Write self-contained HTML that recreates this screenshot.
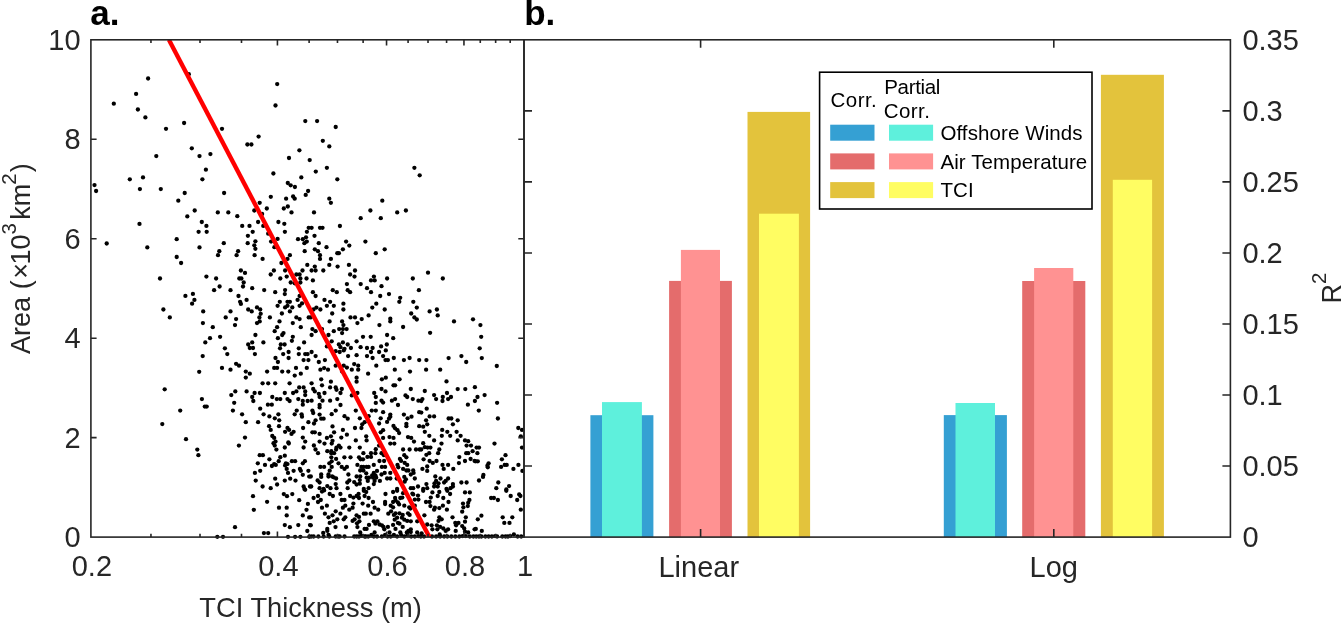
<!DOCTYPE html>
<html><head><meta charset="utf-8"><title>Figure</title>
<style>html,body{margin:0;padding:0;background:#fff;width:1341px;height:623px;overflow:hidden}svg{display:block;will-change:transform}</style>
</head><body><svg width="1341" height="623" viewBox="0 0 1341 623"><rect x="590.4" y="415.2" width="63.0" height="121.9" fill="#35a0d3"/><rect x="602.0" y="402.1" width="39.9" height="135.0" fill="#5ef0dc"/><rect x="669.1" y="280.9" width="62.8" height="256.2" fill="#e46c6c"/><rect x="680.9" y="249.9" width="39.1" height="287.2" fill="#ff9292"/><rect x="747.5" y="111.9" width="62.6" height="425.2" fill="#e3c33c"/><rect x="759.0" y="213.7" width="39.9" height="323.4" fill="#fffd62"/><rect x="943.8" y="415.1" width="63.1" height="122.0" fill="#35a0d3"/><rect x="955.5" y="403.0" width="39.5" height="134.1" fill="#5ef0dc"/><rect x="1022.2" y="281.0" width="63.1" height="256.1" fill="#e46c6c"/><rect x="1034.1" y="268.0" width="39.2" height="269.1" fill="#ff9292"/><rect x="1100.9" y="74.8" width="63.0" height="462.3" fill="#e3c33c"/><rect x="1112.8" y="179.8" width="39.3" height="357.3" fill="#fffd62"/><g fill="#000"><circle cx="148.1" cy="78.5" r="2.15"/><circle cx="136.1" cy="93.9" r="2.15"/><circle cx="113.8" cy="103.7" r="2.15"/><circle cx="137.9" cy="109.5" r="2.15"/><circle cx="145.4" cy="117.4" r="2.15"/><circle cx="166.0" cy="128.8" r="2.15"/><circle cx="184.1" cy="123.0" r="2.15"/><circle cx="188.8" cy="74.2" r="2.15"/><circle cx="277.2" cy="84.1" r="2.15"/><circle cx="275.5" cy="105.5" r="2.15"/><circle cx="305.3" cy="121.1" r="2.15"/><circle cx="222.0" cy="128.8" r="2.15"/><circle cx="258.6" cy="136.6" r="2.15"/><circle cx="317.1" cy="121.1" r="2.15"/><circle cx="335.7" cy="127.0" r="2.15"/><circle cx="191.8" cy="148.3" r="2.15"/><circle cx="156.3" cy="156.1" r="2.15"/><circle cx="199.5" cy="156.1" r="2.15"/><circle cx="129.8" cy="179.3" r="2.15"/><circle cx="143.0" cy="177.4" r="2.15"/><circle cx="94.5" cy="185.1" r="2.15"/><circle cx="96.1" cy="191.0" r="2.15"/><circle cx="139.9" cy="189.1" r="2.15"/><circle cx="160.8" cy="189.1" r="2.15"/><circle cx="184.7" cy="193.0" r="2.15"/><circle cx="178.3" cy="200.7" r="2.15"/><circle cx="194.7" cy="210.5" r="2.15"/><circle cx="187.3" cy="216.4" r="2.15"/><circle cx="139.5" cy="223.9" r="2.15"/><circle cx="198.6" cy="231.8" r="2.15"/><circle cx="176.7" cy="239.2" r="2.15"/><circle cx="247.4" cy="144.5" r="2.15"/><circle cx="251.4" cy="144.5" r="2.15"/><circle cx="299.4" cy="150.3" r="2.15"/><circle cx="210.4" cy="154.1" r="2.15"/><circle cx="289.0" cy="158.0" r="2.15"/><circle cx="309.7" cy="160.1" r="2.15"/><circle cx="205.9" cy="169.7" r="2.15"/><circle cx="202.4" cy="179.3" r="2.15"/><circle cx="273.4" cy="173.5" r="2.15"/><circle cx="301.3" cy="177.4" r="2.15"/><circle cx="287.8" cy="183.0" r="2.15"/><circle cx="290.7" cy="185.3" r="2.15"/><circle cx="294.9" cy="187.0" r="2.15"/><circle cx="308.1" cy="191.0" r="2.15"/><circle cx="224.1" cy="193.0" r="2.15"/><circle cx="270.8" cy="196.8" r="2.15"/><circle cx="286.1" cy="198.7" r="2.15"/><circle cx="293.1" cy="196.5" r="2.15"/><circle cx="294.7" cy="198.7" r="2.15"/><circle cx="305.7" cy="194.9" r="2.15"/><circle cx="259.7" cy="202.8" r="2.15"/><circle cx="266.8" cy="208.5" r="2.15"/><circle cx="254.3" cy="210.5" r="2.15"/><circle cx="283.8" cy="208.5" r="2.15"/><circle cx="287.8" cy="206.5" r="2.15"/><circle cx="291.5" cy="212.4" r="2.15"/><circle cx="217.8" cy="212.4" r="2.15"/><circle cx="228.3" cy="212.4" r="2.15"/><circle cx="237.3" cy="216.2" r="2.15"/><circle cx="262.1" cy="214.0" r="2.15"/><circle cx="201.8" cy="222.0" r="2.15"/><circle cx="206.4" cy="225.9" r="2.15"/><circle cx="242.2" cy="225.9" r="2.15"/><circle cx="249.5" cy="225.9" r="2.15"/><circle cx="258.1" cy="222.0" r="2.15"/><circle cx="263.3" cy="225.9" r="2.15"/><circle cx="278.4" cy="222.0" r="2.15"/><circle cx="284.3" cy="223.8" r="2.15"/><circle cx="308.7" cy="227.8" r="2.15"/><circle cx="206.7" cy="231.8" r="2.15"/><circle cx="252.7" cy="231.8" r="2.15"/><circle cx="247.9" cy="235.8" r="2.15"/><circle cx="268.2" cy="233.7" r="2.15"/><circle cx="284.9" cy="231.8" r="2.15"/><circle cx="306.9" cy="231.8" r="2.15"/><circle cx="277.6" cy="238.9" r="2.15"/><circle cx="298.0" cy="239.2" r="2.15"/><circle cx="302.8" cy="239.2" r="2.15"/><circle cx="306.0" cy="237.3" r="2.15"/><circle cx="322.8" cy="140.8" r="2.15"/><circle cx="329.3" cy="146.4" r="2.15"/><circle cx="326.9" cy="167.8" r="2.15"/><circle cx="315.8" cy="171.6" r="2.15"/><circle cx="337.3" cy="179.3" r="2.15"/><circle cx="414.4" cy="167.8" r="2.15"/><circle cx="419.7" cy="175.3" r="2.15"/><circle cx="329.3" cy="198.7" r="2.15"/><circle cx="330.9" cy="202.8" r="2.15"/><circle cx="382.3" cy="200.7" r="2.15"/><circle cx="314.0" cy="212.4" r="2.15"/><circle cx="370.4" cy="210.5" r="2.15"/><circle cx="397.2" cy="212.4" r="2.15"/><circle cx="405.9" cy="210.5" r="2.15"/><circle cx="360.7" cy="218.2" r="2.15"/><circle cx="380.8" cy="218.2" r="2.15"/><circle cx="311.6" cy="227.8" r="2.15"/><circle cx="320.0" cy="227.8" r="2.15"/><circle cx="322.5" cy="227.8" r="2.15"/><circle cx="339.9" cy="226.0" r="2.15"/><circle cx="314.5" cy="235.8" r="2.15"/><circle cx="106.7" cy="243.5" r="2.15"/><circle cx="147.3" cy="247.4" r="2.15"/><circle cx="199.5" cy="247.4" r="2.15"/><circle cx="176.7" cy="257.0" r="2.15"/><circle cx="181.1" cy="263.0" r="2.15"/><circle cx="160.0" cy="278.5" r="2.15"/><circle cx="185.4" cy="295.9" r="2.15"/><circle cx="192.9" cy="293.9" r="2.15"/><circle cx="194.4" cy="299.9" r="2.15"/><circle cx="192.1" cy="303.7" r="2.15"/><circle cx="163.4" cy="309.5" r="2.15"/><circle cx="169.8" cy="317.4" r="2.15"/><circle cx="223.8" cy="243.2" r="2.15"/><circle cx="247.7" cy="243.2" r="2.15"/><circle cx="255.4" cy="241.3" r="2.15"/><circle cx="254.3" cy="245.3" r="2.15"/><circle cx="271.1" cy="241.6" r="2.15"/><circle cx="274.4" cy="247.2" r="2.15"/><circle cx="304.4" cy="243.2" r="2.15"/><circle cx="306.8" cy="241.6" r="2.15"/><circle cx="255.4" cy="248.8" r="2.15"/><circle cx="219.3" cy="251.2" r="2.15"/><circle cx="238.1" cy="251.2" r="2.15"/><circle cx="218.0" cy="255.2" r="2.15"/><circle cx="236.6" cy="255.2" r="2.15"/><circle cx="254.6" cy="255.2" r="2.15"/><circle cx="304.7" cy="251.2" r="2.15"/><circle cx="289.9" cy="255.2" r="2.15"/><circle cx="262.6" cy="258.9" r="2.15"/><circle cx="287.5" cy="258.9" r="2.15"/><circle cx="281.4" cy="263.0" r="2.15"/><circle cx="307.3" cy="264.9" r="2.15"/><circle cx="240.9" cy="270.5" r="2.15"/><circle cx="245.0" cy="272.9" r="2.15"/><circle cx="273.9" cy="270.5" r="2.15"/><circle cx="285.1" cy="270.5" r="2.15"/><circle cx="302.5" cy="270.5" r="2.15"/><circle cx="270.7" cy="274.5" r="2.15"/><circle cx="206.4" cy="276.6" r="2.15"/><circle cx="216.1" cy="278.5" r="2.15"/><circle cx="239.3" cy="278.5" r="2.15"/><circle cx="241.4" cy="278.5" r="2.15"/><circle cx="280.3" cy="278.5" r="2.15"/><circle cx="286.7" cy="276.6" r="2.15"/><circle cx="296.4" cy="274.5" r="2.15"/><circle cx="299.6" cy="274.5" r="2.15"/><circle cx="300.4" cy="278.5" r="2.15"/><circle cx="306.5" cy="278.5" r="2.15"/><circle cx="243.7" cy="282.5" r="2.15"/><circle cx="290.7" cy="282.5" r="2.15"/><circle cx="294.7" cy="283.3" r="2.15"/><circle cx="300.4" cy="282.5" r="2.15"/><circle cx="243.0" cy="286.5" r="2.15"/><circle cx="219.6" cy="286.5" r="2.15"/><circle cx="252.2" cy="288.2" r="2.15"/><circle cx="264.2" cy="290.1" r="2.15"/><circle cx="214.1" cy="290.2" r="2.15"/><circle cx="230.5" cy="290.2" r="2.15"/><circle cx="275.2" cy="292.2" r="2.15"/><circle cx="285.1" cy="290.1" r="2.15"/><circle cx="284.8" cy="294.1" r="2.15"/><circle cx="238.5" cy="296.0" r="2.15"/><circle cx="299.6" cy="296.0" r="2.15"/><circle cx="246.6" cy="299.9" r="2.15"/><circle cx="240.1" cy="301.8" r="2.15"/><circle cx="240.9" cy="303.9" r="2.15"/><circle cx="279.8" cy="301.8" r="2.15"/><circle cx="297.6" cy="299.9" r="2.15"/><circle cx="287.5" cy="301.8" r="2.15"/><circle cx="289.9" cy="301.8" r="2.15"/><circle cx="277.6" cy="305.8" r="2.15"/><circle cx="299.6" cy="305.8" r="2.15"/><circle cx="302.0" cy="303.4" r="2.15"/><circle cx="257.0" cy="307.4" r="2.15"/><circle cx="248.2" cy="309.5" r="2.15"/><circle cx="251.7" cy="311.4" r="2.15"/><circle cx="260.2" cy="309.5" r="2.15"/><circle cx="260.7" cy="313.8" r="2.15"/><circle cx="285.1" cy="307.4" r="2.15"/><circle cx="287.5" cy="305.8" r="2.15"/><circle cx="292.3" cy="307.4" r="2.15"/><circle cx="289.9" cy="311.4" r="2.15"/><circle cx="203.2" cy="311.4" r="2.15"/><circle cx="230.5" cy="311.4" r="2.15"/><circle cx="281.9" cy="313.5" r="2.15"/><circle cx="225.7" cy="317.4" r="2.15"/><circle cx="236.1" cy="319.1" r="2.15"/><circle cx="259.4" cy="317.4" r="2.15"/><circle cx="269.9" cy="317.4" r="2.15"/><circle cx="296.4" cy="317.4" r="2.15"/><circle cx="299.6" cy="319.1" r="2.15"/><circle cx="308.7" cy="317.4" r="2.15"/><circle cx="279.5" cy="321.4" r="2.15"/><circle cx="202.9" cy="323.1" r="2.15"/><circle cx="257.0" cy="323.1" r="2.15"/><circle cx="259.7" cy="321.4" r="2.15"/><circle cx="235.0" cy="325.1" r="2.15"/><circle cx="292.8" cy="323.1" r="2.15"/><circle cx="212.8" cy="327.2" r="2.15"/><circle cx="277.1" cy="327.2" r="2.15"/><circle cx="300.8" cy="327.2" r="2.15"/><circle cx="274.7" cy="331.2" r="2.15"/><circle cx="283.5" cy="333.1" r="2.15"/><circle cx="255.4" cy="335.0" r="2.15"/><circle cx="282.2" cy="335.0" r="2.15"/><circle cx="220.1" cy="336.8" r="2.15"/><circle cx="210.0" cy="338.2" r="2.15"/><circle cx="277.9" cy="338.2" r="2.15"/><circle cx="292.8" cy="336.8" r="2.15"/><circle cx="318.8" cy="243.2" r="2.15"/><circle cx="346.1" cy="241.6" r="2.15"/><circle cx="365.4" cy="241.6" r="2.15"/><circle cx="349.3" cy="245.6" r="2.15"/><circle cx="314.8" cy="249.3" r="2.15"/><circle cx="326.5" cy="247.2" r="2.15"/><circle cx="318.0" cy="251.2" r="2.15"/><circle cx="337.3" cy="253.2" r="2.15"/><circle cx="338.9" cy="253.2" r="2.15"/><circle cx="342.9" cy="249.3" r="2.15"/><circle cx="384.7" cy="249.3" r="2.15"/><circle cx="375.8" cy="253.2" r="2.15"/><circle cx="320.0" cy="255.2" r="2.15"/><circle cx="320.0" cy="258.9" r="2.15"/><circle cx="330.9" cy="258.9" r="2.15"/><circle cx="329.3" cy="264.9" r="2.15"/><circle cx="337.6" cy="266.6" r="2.15"/><circle cx="348.9" cy="264.9" r="2.15"/><circle cx="314.8" cy="266.6" r="2.15"/><circle cx="311.6" cy="270.5" r="2.15"/><circle cx="315.6" cy="270.5" r="2.15"/><circle cx="323.3" cy="270.5" r="2.15"/><circle cx="355.0" cy="270.5" r="2.15"/><circle cx="350.1" cy="274.5" r="2.15"/><circle cx="354.5" cy="276.6" r="2.15"/><circle cx="373.9" cy="276.6" r="2.15"/><circle cx="371.0" cy="280.4" r="2.15"/><circle cx="374.7" cy="280.4" r="2.15"/><circle cx="387.1" cy="278.5" r="2.15"/><circle cx="412.8" cy="278.5" r="2.15"/><circle cx="312.9" cy="280.4" r="2.15"/><circle cx="346.9" cy="284.1" r="2.15"/><circle cx="360.7" cy="284.1" r="2.15"/><circle cx="367.0" cy="288.2" r="2.15"/><circle cx="381.5" cy="286.2" r="2.15"/><circle cx="332.8" cy="290.2" r="2.15"/><circle cx="336.8" cy="292.2" r="2.15"/><circle cx="347.7" cy="290.2" r="2.15"/><circle cx="350.1" cy="292.2" r="2.15"/><circle cx="371.0" cy="292.2" r="2.15"/><circle cx="312.9" cy="292.2" r="2.15"/><circle cx="389.0" cy="294.1" r="2.15"/><circle cx="418.9" cy="290.2" r="2.15"/><circle cx="315.6" cy="296.0" r="2.15"/><circle cx="380.2" cy="296.0" r="2.15"/><circle cx="400.2" cy="297.8" r="2.15"/><circle cx="399.3" cy="301.8" r="2.15"/><circle cx="413.3" cy="301.8" r="2.15"/><circle cx="324.5" cy="299.9" r="2.15"/><circle cx="330.1" cy="301.8" r="2.15"/><circle cx="326.9" cy="305.8" r="2.15"/><circle cx="333.8" cy="305.8" r="2.15"/><circle cx="343.4" cy="303.7" r="2.15"/><circle cx="376.3" cy="303.7" r="2.15"/><circle cx="372.3" cy="307.6" r="2.15"/><circle cx="316.4" cy="307.6" r="2.15"/><circle cx="320.4" cy="309.5" r="2.15"/><circle cx="313.5" cy="309.5" r="2.15"/><circle cx="343.4" cy="309.5" r="2.15"/><circle cx="384.7" cy="309.5" r="2.15"/><circle cx="416.8" cy="307.6" r="2.15"/><circle cx="332.2" cy="313.5" r="2.15"/><circle cx="368.6" cy="315.4" r="2.15"/><circle cx="411.2" cy="313.5" r="2.15"/><circle cx="414.4" cy="317.4" r="2.15"/><circle cx="416.8" cy="319.5" r="2.15"/><circle cx="310.8" cy="317.4" r="2.15"/><circle cx="350.5" cy="317.4" r="2.15"/><circle cx="355.0" cy="317.4" r="2.15"/><circle cx="361.7" cy="319.1" r="2.15"/><circle cx="390.3" cy="318.7" r="2.15"/><circle cx="390.3" cy="321.4" r="2.15"/><circle cx="329.6" cy="321.4" r="2.15"/><circle cx="342.1" cy="321.4" r="2.15"/><circle cx="357.4" cy="323.1" r="2.15"/><circle cx="379.4" cy="325.1" r="2.15"/><circle cx="343.4" cy="325.1" r="2.15"/><circle cx="339.2" cy="329.1" r="2.15"/><circle cx="342.9" cy="329.1" r="2.15"/><circle cx="346.6" cy="329.1" r="2.15"/><circle cx="312.4" cy="329.1" r="2.15"/><circle cx="315.6" cy="331.2" r="2.15"/><circle cx="322.0" cy="329.1" r="2.15"/><circle cx="333.8" cy="331.2" r="2.15"/><circle cx="342.1" cy="333.1" r="2.15"/><circle cx="403.1" cy="327.0" r="2.15"/><circle cx="311.6" cy="335.0" r="2.15"/><circle cx="328.5" cy="335.0" r="2.15"/><circle cx="387.1" cy="335.0" r="2.15"/><circle cx="363.0" cy="336.8" r="2.15"/><circle cx="370.7" cy="336.8" r="2.15"/><circle cx="393.2" cy="338.2" r="2.15"/><circle cx="428.0" cy="272.7" r="2.15"/><circle cx="442.8" cy="278.5" r="2.15"/><circle cx="429.6" cy="311.4" r="2.15"/><circle cx="436.9" cy="309.5" r="2.15"/><circle cx="437.7" cy="315.4" r="2.15"/><circle cx="454.0" cy="321.4" r="2.15"/><circle cx="473.0" cy="319.3" r="2.15"/><circle cx="480.4" cy="325.1" r="2.15"/><circle cx="430.1" cy="332.8" r="2.15"/><circle cx="481.2" cy="336.8" r="2.15"/><circle cx="199.2" cy="371.8" r="2.15"/><circle cx="164.7" cy="389.3" r="2.15"/><circle cx="180.2" cy="410.6" r="2.15"/><circle cx="162.3" cy="424.1" r="2.15"/><circle cx="186.0" cy="439.2" r="2.15"/><circle cx="205.3" cy="342.4" r="2.15"/><circle cx="248.2" cy="344.5" r="2.15"/><circle cx="252.2" cy="342.4" r="2.15"/><circle cx="249.8" cy="348.0" r="2.15"/><circle cx="253.0" cy="348.0" r="2.15"/><circle cx="263.4" cy="342.4" r="2.15"/><circle cx="280.8" cy="344.5" r="2.15"/><circle cx="284.6" cy="344.5" r="2.15"/><circle cx="280.0" cy="348.3" r="2.15"/><circle cx="291.9" cy="340.8" r="2.15"/><circle cx="304.1" cy="342.4" r="2.15"/><circle cx="298.8" cy="348.3" r="2.15"/><circle cx="224.9" cy="348.3" r="2.15"/><circle cx="227.3" cy="354.1" r="2.15"/><circle cx="202.7" cy="356.1" r="2.15"/><circle cx="254.9" cy="354.1" r="2.15"/><circle cx="283.2" cy="354.1" r="2.15"/><circle cx="288.6" cy="352.0" r="2.15"/><circle cx="298.8" cy="354.1" r="2.15"/><circle cx="305.2" cy="354.1" r="2.15"/><circle cx="307.6" cy="354.1" r="2.15"/><circle cx="275.5" cy="358.0" r="2.15"/><circle cx="288.6" cy="358.0" r="2.15"/><circle cx="303.6" cy="360.1" r="2.15"/><circle cx="308.4" cy="360.1" r="2.15"/><circle cx="277.9" cy="362.0" r="2.15"/><circle cx="236.1" cy="363.8" r="2.15"/><circle cx="239.0" cy="365.7" r="2.15"/><circle cx="222.0" cy="367.9" r="2.15"/><circle cx="230.5" cy="369.7" r="2.15"/><circle cx="274.2" cy="367.9" r="2.15"/><circle cx="277.1" cy="367.9" r="2.15"/><circle cx="296.0" cy="367.9" r="2.15"/><circle cx="306.8" cy="367.9" r="2.15"/><circle cx="245.8" cy="371.6" r="2.15"/><circle cx="249.8" cy="373.7" r="2.15"/><circle cx="267.1" cy="371.6" r="2.15"/><circle cx="282.2" cy="371.6" r="2.15"/><circle cx="288.3" cy="371.6" r="2.15"/><circle cx="300.8" cy="373.7" r="2.15"/><circle cx="294.7" cy="375.6" r="2.15"/><circle cx="245.8" cy="377.6" r="2.15"/><circle cx="262.6" cy="383.3" r="2.15"/><circle cx="268.2" cy="383.3" r="2.15"/><circle cx="275.2" cy="383.3" r="2.15"/><circle cx="289.6" cy="383.3" r="2.15"/><circle cx="299.2" cy="387.4" r="2.15"/><circle cx="303.6" cy="387.4" r="2.15"/><circle cx="235.3" cy="391.4" r="2.15"/><circle cx="246.6" cy="391.4" r="2.15"/><circle cx="254.6" cy="393.0" r="2.15"/><circle cx="259.9" cy="393.0" r="2.15"/><circle cx="284.8" cy="393.0" r="2.15"/><circle cx="293.1" cy="393.0" r="2.15"/><circle cx="296.4" cy="391.4" r="2.15"/><circle cx="305.2" cy="391.4" r="2.15"/><circle cx="231.3" cy="395.1" r="2.15"/><circle cx="305.2" cy="395.1" r="2.15"/><circle cx="252.2" cy="397.0" r="2.15"/><circle cx="272.3" cy="397.0" r="2.15"/><circle cx="276.8" cy="399.1" r="2.15"/><circle cx="280.3" cy="399.1" r="2.15"/><circle cx="287.5" cy="399.1" r="2.15"/><circle cx="289.6" cy="401.0" r="2.15"/><circle cx="298.3" cy="399.1" r="2.15"/><circle cx="302.8" cy="401.0" r="2.15"/><circle cx="307.6" cy="401.0" r="2.15"/><circle cx="201.9" cy="399.1" r="2.15"/><circle cx="253.3" cy="401.0" r="2.15"/><circle cx="302.8" cy="404.7" r="2.15"/><circle cx="234.2" cy="402.8" r="2.15"/><circle cx="204.8" cy="406.6" r="2.15"/><circle cx="206.7" cy="406.6" r="2.15"/><circle cx="267.9" cy="404.7" r="2.15"/><circle cx="271.8" cy="404.7" r="2.15"/><circle cx="260.2" cy="408.7" r="2.15"/><circle cx="232.9" cy="410.6" r="2.15"/><circle cx="296.7" cy="410.6" r="2.15"/><circle cx="242.1" cy="414.3" r="2.15"/><circle cx="263.6" cy="414.3" r="2.15"/><circle cx="278.4" cy="414.3" r="2.15"/><circle cx="294.7" cy="414.3" r="2.15"/><circle cx="301.6" cy="414.3" r="2.15"/><circle cx="302.0" cy="416.7" r="2.15"/><circle cx="269.4" cy="416.4" r="2.15"/><circle cx="274.8" cy="418.3" r="2.15"/><circle cx="279.2" cy="420.3" r="2.15"/><circle cx="245.8" cy="422.2" r="2.15"/><circle cx="258.1" cy="422.2" r="2.15"/><circle cx="308.4" cy="422.2" r="2.15"/><circle cx="269.1" cy="426.2" r="2.15"/><circle cx="279.0" cy="426.2" r="2.15"/><circle cx="270.7" cy="429.9" r="2.15"/><circle cx="287.5" cy="428.0" r="2.15"/><circle cx="289.1" cy="429.9" r="2.15"/><circle cx="303.1" cy="428.0" r="2.15"/><circle cx="285.1" cy="431.8" r="2.15"/><circle cx="293.6" cy="431.8" r="2.15"/><circle cx="291.5" cy="433.9" r="2.15"/><circle cx="272.3" cy="436.0" r="2.15"/><circle cx="274.2" cy="437.9" r="2.15"/><circle cx="245.0" cy="437.6" r="2.15"/><circle cx="302.8" cy="437.6" r="2.15"/><circle cx="331.7" cy="341.3" r="2.15"/><circle cx="338.9" cy="344.5" r="2.15"/><circle cx="342.9" cy="342.4" r="2.15"/><circle cx="347.7" cy="344.5" r="2.15"/><circle cx="356.6" cy="341.3" r="2.15"/><circle cx="326.9" cy="346.4" r="2.15"/><circle cx="340.5" cy="347.2" r="2.15"/><circle cx="344.5" cy="348.8" r="2.15"/><circle cx="350.9" cy="348.0" r="2.15"/><circle cx="360.6" cy="347.2" r="2.15"/><circle cx="367.0" cy="348.0" r="2.15"/><circle cx="372.6" cy="348.0" r="2.15"/><circle cx="381.1" cy="346.4" r="2.15"/><circle cx="386.8" cy="344.5" r="2.15"/><circle cx="311.6" cy="352.0" r="2.15"/><circle cx="335.7" cy="351.2" r="2.15"/><circle cx="339.7" cy="352.0" r="2.15"/><circle cx="343.7" cy="350.4" r="2.15"/><circle cx="371.0" cy="352.0" r="2.15"/><circle cx="379.1" cy="352.0" r="2.15"/><circle cx="385.8" cy="350.4" r="2.15"/><circle cx="315.6" cy="356.1" r="2.15"/><circle cx="324.9" cy="360.1" r="2.15"/><circle cx="348.1" cy="356.1" r="2.15"/><circle cx="356.6" cy="355.2" r="2.15"/><circle cx="367.0" cy="356.1" r="2.15"/><circle cx="372.6" cy="358.0" r="2.15"/><circle cx="383.1" cy="356.1" r="2.15"/><circle cx="385.5" cy="360.1" r="2.15"/><circle cx="387.9" cy="360.1" r="2.15"/><circle cx="393.8" cy="358.0" r="2.15"/><circle cx="403.9" cy="360.1" r="2.15"/><circle cx="409.6" cy="358.0" r="2.15"/><circle cx="419.2" cy="360.1" r="2.15"/><circle cx="318.8" cy="362.0" r="2.15"/><circle cx="335.7" cy="365.7" r="2.15"/><circle cx="343.7" cy="365.7" r="2.15"/><circle cx="346.9" cy="367.6" r="2.15"/><circle cx="354.2" cy="364.1" r="2.15"/><circle cx="358.2" cy="365.7" r="2.15"/><circle cx="351.8" cy="369.7" r="2.15"/><circle cx="358.2" cy="369.7" r="2.15"/><circle cx="376.3" cy="365.7" r="2.15"/><circle cx="320.4" cy="369.7" r="2.15"/><circle cx="324.1" cy="368.1" r="2.15"/><circle cx="328.0" cy="369.7" r="2.15"/><circle cx="394.8" cy="369.7" r="2.15"/><circle cx="410.0" cy="371.6" r="2.15"/><circle cx="368.1" cy="373.7" r="2.15"/><circle cx="342.1" cy="371.6" r="2.15"/><circle cx="356.6" cy="377.7" r="2.15"/><circle cx="356.6" cy="381.7" r="2.15"/><circle cx="381.9" cy="379.3" r="2.15"/><circle cx="385.8" cy="377.7" r="2.15"/><circle cx="399.6" cy="379.3" r="2.15"/><circle cx="321.2" cy="379.3" r="2.15"/><circle cx="330.9" cy="381.7" r="2.15"/><circle cx="322.0" cy="385.3" r="2.15"/><circle cx="330.1" cy="387.4" r="2.15"/><circle cx="335.7" cy="387.4" r="2.15"/><circle cx="311.6" cy="383.3" r="2.15"/><circle cx="393.5" cy="385.3" r="2.15"/><circle cx="395.1" cy="385.3" r="2.15"/><circle cx="410.8" cy="389.0" r="2.15"/><circle cx="336.5" cy="389.8" r="2.15"/><circle cx="341.8" cy="389.0" r="2.15"/><circle cx="381.5" cy="389.0" r="2.15"/><circle cx="313.2" cy="389.0" r="2.15"/><circle cx="385.5" cy="391.4" r="2.15"/><circle cx="314.8" cy="391.4" r="2.15"/><circle cx="324.5" cy="393.0" r="2.15"/><circle cx="340.5" cy="393.0" r="2.15"/><circle cx="318.8" cy="393.8" r="2.15"/><circle cx="357.4" cy="393.0" r="2.15"/><circle cx="374.2" cy="393.0" r="2.15"/><circle cx="351.8" cy="395.4" r="2.15"/><circle cx="405.5" cy="395.4" r="2.15"/><circle cx="375.8" cy="397.0" r="2.15"/><circle cx="407.2" cy="397.0" r="2.15"/><circle cx="319.6" cy="397.0" r="2.15"/><circle cx="337.3" cy="399.1" r="2.15"/><circle cx="330.1" cy="400.7" r="2.15"/><circle cx="322.5" cy="400.7" r="2.15"/><circle cx="311.6" cy="400.7" r="2.15"/><circle cx="381.5" cy="400.7" r="2.15"/><circle cx="391.9" cy="400.7" r="2.15"/><circle cx="395.1" cy="399.1" r="2.15"/><circle cx="412.8" cy="399.1" r="2.15"/><circle cx="418.4" cy="400.7" r="2.15"/><circle cx="383.1" cy="402.6" r="2.15"/><circle cx="375.8" cy="402.9" r="2.15"/><circle cx="319.6" cy="405.0" r="2.15"/><circle cx="340.5" cy="405.0" r="2.15"/><circle cx="398.0" cy="405.0" r="2.15"/><circle cx="319.6" cy="407.4" r="2.15"/><circle cx="312.4" cy="410.6" r="2.15"/><circle cx="335.7" cy="410.6" r="2.15"/><circle cx="355.8" cy="410.6" r="2.15"/><circle cx="371.8" cy="410.6" r="2.15"/><circle cx="375.8" cy="410.6" r="2.15"/><circle cx="383.1" cy="412.2" r="2.15"/><circle cx="419.2" cy="412.2" r="2.15"/><circle cx="313.2" cy="413.0" r="2.15"/><circle cx="319.6" cy="414.6" r="2.15"/><circle cx="331.7" cy="414.2" r="2.15"/><circle cx="390.3" cy="414.6" r="2.15"/><circle cx="403.9" cy="414.6" r="2.15"/><circle cx="411.5" cy="416.7" r="2.15"/><circle cx="344.5" cy="416.2" r="2.15"/><circle cx="347.7" cy="418.7" r="2.15"/><circle cx="359.8" cy="418.3" r="2.15"/><circle cx="323.6" cy="418.7" r="2.15"/><circle cx="321.2" cy="418.7" r="2.15"/><circle cx="380.7" cy="418.3" r="2.15"/><circle cx="389.0" cy="418.7" r="2.15"/><circle cx="390.3" cy="416.7" r="2.15"/><circle cx="407.6" cy="418.3" r="2.15"/><circle cx="315.6" cy="420.3" r="2.15"/><circle cx="314.0" cy="423.5" r="2.15"/><circle cx="364.6" cy="422.2" r="2.15"/><circle cx="362.2" cy="424.3" r="2.15"/><circle cx="368.6" cy="416.2" r="2.15"/><circle cx="379.1" cy="423.5" r="2.15"/><circle cx="387.1" cy="421.9" r="2.15"/><circle cx="406.4" cy="423.8" r="2.15"/><circle cx="393.5" cy="425.9" r="2.15"/><circle cx="332.5" cy="426.4" r="2.15"/><circle cx="406.4" cy="426.2" r="2.15"/><circle cx="419.2" cy="426.2" r="2.15"/><circle cx="355.0" cy="428.0" r="2.15"/><circle cx="361.4" cy="428.0" r="2.15"/><circle cx="395.1" cy="428.3" r="2.15"/><circle cx="397.5" cy="430.2" r="2.15"/><circle cx="383.1" cy="430.2" r="2.15"/><circle cx="380.7" cy="432.3" r="2.15"/><circle cx="342.9" cy="429.9" r="2.15"/><circle cx="334.1" cy="432.3" r="2.15"/><circle cx="314.8" cy="432.3" r="2.15"/><circle cx="312.4" cy="432.3" r="2.15"/><circle cx="319.6" cy="433.9" r="2.15"/><circle cx="399.1" cy="433.1" r="2.15"/><circle cx="346.9" cy="434.7" r="2.15"/><circle cx="330.9" cy="436.3" r="2.15"/><circle cx="326.9" cy="437.9" r="2.15"/><circle cx="341.3" cy="437.6" r="2.15"/><circle cx="366.2" cy="436.3" r="2.15"/><circle cx="389.5" cy="437.1" r="2.15"/><circle cx="393.5" cy="437.9" r="2.15"/><circle cx="408.0" cy="437.1" r="2.15"/><circle cx="411.2" cy="437.9" r="2.15"/><circle cx="383.1" cy="437.9" r="2.15"/><circle cx="479.7" cy="348.3" r="2.15"/><circle cx="448.6" cy="358.1" r="2.15"/><circle cx="461.4" cy="356.1" r="2.15"/><circle cx="481.8" cy="358.1" r="2.15"/><circle cx="466.2" cy="362.0" r="2.15"/><circle cx="496.8" cy="366.0" r="2.15"/><circle cx="426.4" cy="360.1" r="2.15"/><circle cx="426.1" cy="369.7" r="2.15"/><circle cx="440.2" cy="369.7" r="2.15"/><circle cx="446.5" cy="381.4" r="2.15"/><circle cx="424.8" cy="391.0" r="2.15"/><circle cx="434.1" cy="395.1" r="2.15"/><circle cx="436.1" cy="399.1" r="2.15"/><circle cx="442.8" cy="397.0" r="2.15"/><circle cx="442.5" cy="401.0" r="2.15"/><circle cx="447.0" cy="393.0" r="2.15"/><circle cx="448.1" cy="399.1" r="2.15"/><circle cx="451.0" cy="397.0" r="2.15"/><circle cx="457.7" cy="389.1" r="2.15"/><circle cx="465.3" cy="389.1" r="2.15"/><circle cx="474.9" cy="387.2" r="2.15"/><circle cx="477.5" cy="397.0" r="2.15"/><circle cx="484.6" cy="395.1" r="2.15"/><circle cx="474.9" cy="401.0" r="2.15"/><circle cx="467.9" cy="404.7" r="2.15"/><circle cx="497.1" cy="402.8" r="2.15"/><circle cx="478.8" cy="410.6" r="2.15"/><circle cx="422.4" cy="399.1" r="2.15"/><circle cx="421.3" cy="401.0" r="2.15"/><circle cx="426.7" cy="408.7" r="2.15"/><circle cx="421.3" cy="412.6" r="2.15"/><circle cx="429.6" cy="416.4" r="2.15"/><circle cx="434.1" cy="416.4" r="2.15"/><circle cx="448.6" cy="418.5" r="2.15"/><circle cx="451.3" cy="418.5" r="2.15"/><circle cx="457.7" cy="420.3" r="2.15"/><circle cx="452.9" cy="424.3" r="2.15"/><circle cx="497.9" cy="418.5" r="2.15"/><circle cx="426.1" cy="420.3" r="2.15"/><circle cx="427.2" cy="424.3" r="2.15"/><circle cx="423.2" cy="426.7" r="2.15"/><circle cx="424.8" cy="431.8" r="2.15"/><circle cx="429.3" cy="435.8" r="2.15"/><circle cx="442.2" cy="429.9" r="2.15"/><circle cx="441.8" cy="435.8" r="2.15"/><circle cx="447.3" cy="431.8" r="2.15"/><circle cx="450.2" cy="435.8" r="2.15"/><circle cx="456.6" cy="431.8" r="2.15"/><circle cx="460.6" cy="435.8" r="2.15"/><circle cx="518.3" cy="428.0" r="2.15"/><circle cx="522.0" cy="429.9" r="2.15"/><circle cx="520.8" cy="436.3" r="2.15"/><circle cx="197.3" cy="449.6" r="2.15"/><circle cx="198.4" cy="455.2" r="2.15"/><circle cx="238.9" cy="445.6" r="2.15"/><circle cx="273.5" cy="443.2" r="2.15"/><circle cx="275.5" cy="441.6" r="2.15"/><circle cx="274.7" cy="445.6" r="2.15"/><circle cx="276.4" cy="449.6" r="2.15"/><circle cx="288.3" cy="442.4" r="2.15"/><circle cx="288.8" cy="443.5" r="2.15"/><circle cx="284.8" cy="447.5" r="2.15"/><circle cx="305.2" cy="441.6" r="2.15"/><circle cx="303.6" cy="447.5" r="2.15"/><circle cx="259.7" cy="455.2" r="2.15"/><circle cx="262.9" cy="455.2" r="2.15"/><circle cx="269.4" cy="459.3" r="2.15"/><circle cx="280.3" cy="457.2" r="2.15"/><circle cx="284.8" cy="455.7" r="2.15"/><circle cx="278.7" cy="461.2" r="2.15"/><circle cx="257.8" cy="463.3" r="2.15"/><circle cx="265.0" cy="464.9" r="2.15"/><circle cx="271.9" cy="466.0" r="2.15"/><circle cx="274.2" cy="464.1" r="2.15"/><circle cx="275.8" cy="464.9" r="2.15"/><circle cx="285.9" cy="463.3" r="2.15"/><circle cx="287.5" cy="464.1" r="2.15"/><circle cx="285.1" cy="465.4" r="2.15"/><circle cx="291.9" cy="461.2" r="2.15"/><circle cx="295.1" cy="461.2" r="2.15"/><circle cx="302.8" cy="463.3" r="2.15"/><circle cx="304.9" cy="461.2" r="2.15"/><circle cx="286.7" cy="468.9" r="2.15"/><circle cx="288.0" cy="472.9" r="2.15"/><circle cx="293.6" cy="470.8" r="2.15"/><circle cx="299.9" cy="468.9" r="2.15"/><circle cx="300.8" cy="470.8" r="2.15"/><circle cx="302.8" cy="474.8" r="2.15"/><circle cx="308.4" cy="470.8" r="2.15"/><circle cx="309.2" cy="476.6" r="2.15"/><circle cx="254.9" cy="472.9" r="2.15"/><circle cx="260.2" cy="470.8" r="2.15"/><circle cx="255.7" cy="480.6" r="2.15"/><circle cx="275.2" cy="478.7" r="2.15"/><circle cx="284.8" cy="480.6" r="2.15"/><circle cx="290.2" cy="478.7" r="2.15"/><circle cx="295.5" cy="480.6" r="2.15"/><circle cx="277.1" cy="484.5" r="2.15"/><circle cx="262.6" cy="486.5" r="2.15"/><circle cx="270.7" cy="488.2" r="2.15"/><circle cx="303.6" cy="486.5" r="2.15"/><circle cx="304.4" cy="489.0" r="2.15"/><circle cx="305.2" cy="489.8" r="2.15"/><circle cx="310.0" cy="486.5" r="2.15"/><circle cx="283.8" cy="494.1" r="2.15"/><circle cx="287.0" cy="496.2" r="2.15"/><circle cx="292.3" cy="494.1" r="2.15"/><circle cx="253.0" cy="496.2" r="2.15"/><circle cx="267.1" cy="501.8" r="2.15"/><circle cx="299.2" cy="500.2" r="2.15"/><circle cx="307.9" cy="503.9" r="2.15"/><circle cx="253.8" cy="509.8" r="2.15"/><circle cx="279.0" cy="507.7" r="2.15"/><circle cx="286.7" cy="507.7" r="2.15"/><circle cx="306.5" cy="509.8" r="2.15"/><circle cx="286.7" cy="515.4" r="2.15"/><circle cx="302.8" cy="515.4" r="2.15"/><circle cx="309.2" cy="517.4" r="2.15"/><circle cx="284.8" cy="525.1" r="2.15"/><circle cx="289.9" cy="527.2" r="2.15"/><circle cx="298.3" cy="525.1" r="2.15"/><circle cx="310.0" cy="525.1" r="2.15"/><circle cx="235.0" cy="527.2" r="2.15"/><circle cx="307.3" cy="531.0" r="2.15"/><circle cx="263.9" cy="533.1" r="2.15"/><circle cx="268.2" cy="533.1" r="2.15"/><circle cx="217.3" cy="536.8" r="2.15"/><circle cx="223.0" cy="536.8" r="2.15"/><circle cx="288.0" cy="536.8" r="2.15"/><circle cx="295.1" cy="536.8" r="2.15"/><circle cx="300.4" cy="536.8" r="2.15"/><circle cx="309.2" cy="536.8" r="2.15"/><circle cx="319.6" cy="441.6" r="2.15"/><circle cx="324.5" cy="443.6" r="2.15"/><circle cx="331.7" cy="443.6" r="2.15"/><circle cx="332.5" cy="440.8" r="2.15"/><circle cx="355.8" cy="440.4" r="2.15"/><circle cx="313.9" cy="445.5" r="2.15"/><circle cx="315.5" cy="449.5" r="2.15"/><circle cx="318.0" cy="453.2" r="2.15"/><circle cx="336.5" cy="447.6" r="2.15"/><circle cx="338.9" cy="445.6" r="2.15"/><circle cx="340.5" cy="447.6" r="2.15"/><circle cx="336.1" cy="449.6" r="2.15"/><circle cx="349.3" cy="447.6" r="2.15"/><circle cx="359.8" cy="447.6" r="2.15"/><circle cx="327.3" cy="451.2" r="2.15"/><circle cx="331.3" cy="451.2" r="2.15"/><circle cx="331.3" cy="453.2" r="2.15"/><circle cx="334.1" cy="453.2" r="2.15"/><circle cx="363.4" cy="453.2" r="2.15"/><circle cx="344.4" cy="457.3" r="2.15"/><circle cx="350.5" cy="457.3" r="2.15"/><circle cx="331.3" cy="457.3" r="2.15"/><circle cx="336.1" cy="458.9" r="2.15"/><circle cx="359.0" cy="457.3" r="2.15"/><circle cx="360.6" cy="459.3" r="2.15"/><circle cx="363.0" cy="459.3" r="2.15"/><circle cx="331.7" cy="461.3" r="2.15"/><circle cx="329.3" cy="463.3" r="2.15"/><circle cx="338.5" cy="463.3" r="2.15"/><circle cx="357.4" cy="464.9" r="2.15"/><circle cx="320.4" cy="466.9" r="2.15"/><circle cx="324.1" cy="466.9" r="2.15"/><circle cx="331.7" cy="466.9" r="2.15"/><circle cx="341.7" cy="466.9" r="2.15"/><circle cx="344.5" cy="468.9" r="2.15"/><circle cx="346.9" cy="466.9" r="2.15"/><circle cx="361.4" cy="466.9" r="2.15"/><circle cx="363.4" cy="466.9" r="2.15"/><circle cx="329.7" cy="470.7" r="2.15"/><circle cx="360.2" cy="470.5" r="2.15"/><circle cx="363.4" cy="470.5" r="2.15"/><circle cx="310.8" cy="476.5" r="2.15"/><circle cx="321.2" cy="474.5" r="2.15"/><circle cx="321.2" cy="476.9" r="2.15"/><circle cx="328.5" cy="474.5" r="2.15"/><circle cx="328.5" cy="476.5" r="2.15"/><circle cx="332.1" cy="476.5" r="2.15"/><circle cx="333.7" cy="477.3" r="2.15"/><circle cx="336.1" cy="478.5" r="2.15"/><circle cx="348.4" cy="474.5" r="2.15"/><circle cx="356.6" cy="476.5" r="2.15"/><circle cx="360.2" cy="476.5" r="2.15"/><circle cx="317.6" cy="480.5" r="2.15"/><circle cx="319.6" cy="482.5" r="2.15"/><circle cx="349.3" cy="480.5" r="2.15"/><circle cx="347.3" cy="482.5" r="2.15"/><circle cx="354.2" cy="482.1" r="2.15"/><circle cx="356.6" cy="484.5" r="2.15"/><circle cx="359.8" cy="483.7" r="2.15"/><circle cx="359.8" cy="480.1" r="2.15"/><circle cx="311.2" cy="486.5" r="2.15"/><circle cx="319.6" cy="488.2" r="2.15"/><circle cx="323.6" cy="489.0" r="2.15"/><circle cx="327.3" cy="486.1" r="2.15"/><circle cx="330.5" cy="488.2" r="2.15"/><circle cx="335.7" cy="484.1" r="2.15"/><circle cx="336.5" cy="488.2" r="2.15"/><circle cx="347.7" cy="488.2" r="2.15"/><circle cx="363.8" cy="489.0" r="2.15"/><circle cx="366.6" cy="440.4" r="2.15"/><circle cx="390.3" cy="443.6" r="2.15"/><circle cx="394.3" cy="443.6" r="2.15"/><circle cx="414.0" cy="441.6" r="2.15"/><circle cx="379.1" cy="445.6" r="2.15"/><circle cx="375.8" cy="449.2" r="2.15"/><circle cx="403.1" cy="449.5" r="2.15"/><circle cx="409.6" cy="449.5" r="2.15"/><circle cx="416.0" cy="449.5" r="2.15"/><circle cx="419.6" cy="449.5" r="2.15"/><circle cx="375.4" cy="453.2" r="2.15"/><circle cx="371.0" cy="453.2" r="2.15"/><circle cx="381.5" cy="453.2" r="2.15"/><circle cx="383.9" cy="455.2" r="2.15"/><circle cx="367.4" cy="456.9" r="2.15"/><circle cx="371.0" cy="456.9" r="2.15"/><circle cx="404.3" cy="455.2" r="2.15"/><circle cx="406.4" cy="457.3" r="2.15"/><circle cx="399.9" cy="458.9" r="2.15"/><circle cx="401.1" cy="460.9" r="2.15"/><circle cx="379.5" cy="461.0" r="2.15"/><circle cx="384.1" cy="461.0" r="2.15"/><circle cx="404.7" cy="462.9" r="2.15"/><circle cx="407.2" cy="464.9" r="2.15"/><circle cx="373.8" cy="464.9" r="2.15"/><circle cx="397.5" cy="464.9" r="2.15"/><circle cx="398.3" cy="467.3" r="2.15"/><circle cx="366.6" cy="466.9" r="2.15"/><circle cx="368.6" cy="466.9" r="2.15"/><circle cx="381.9" cy="466.9" r="2.15"/><circle cx="385.1" cy="466.9" r="2.15"/><circle cx="403.1" cy="468.9" r="2.15"/><circle cx="406.4" cy="470.5" r="2.15"/><circle cx="408.4" cy="470.5" r="2.15"/><circle cx="413.2" cy="470.5" r="2.15"/><circle cx="413.6" cy="472.9" r="2.15"/><circle cx="410.8" cy="474.5" r="2.15"/><circle cx="377.0" cy="470.9" r="2.15"/><circle cx="373.8" cy="472.9" r="2.15"/><circle cx="366.2" cy="473.3" r="2.15"/><circle cx="384.7" cy="472.9" r="2.15"/><circle cx="390.3" cy="472.9" r="2.15"/><circle cx="372.2" cy="475.3" r="2.15"/><circle cx="375.4" cy="475.3" r="2.15"/><circle cx="381.5" cy="474.5" r="2.15"/><circle cx="369.0" cy="477.7" r="2.15"/><circle cx="373.0" cy="477.7" r="2.15"/><circle cx="376.2" cy="477.7" r="2.15"/><circle cx="366.6" cy="477.7" r="2.15"/><circle cx="367.8" cy="480.9" r="2.15"/><circle cx="374.6" cy="480.9" r="2.15"/><circle cx="379.9" cy="480.9" r="2.15"/><circle cx="387.1" cy="478.5" r="2.15"/><circle cx="390.3" cy="478.5" r="2.15"/><circle cx="396.7" cy="478.5" r="2.15"/><circle cx="404.3" cy="476.9" r="2.15"/><circle cx="405.9" cy="479.3" r="2.15"/><circle cx="404.7" cy="481.7" r="2.15"/><circle cx="414.8" cy="478.5" r="2.15"/><circle cx="373.8" cy="484.1" r="2.15"/><circle cx="368.6" cy="488.2" r="2.15"/><circle cx="397.1" cy="489.0" r="2.15"/><circle cx="410.8" cy="488.2" r="2.15"/><circle cx="413.2" cy="488.2" r="2.15"/><circle cx="418.0" cy="486.5" r="2.15"/><circle cx="322.0" cy="491.6" r="2.15"/><circle cx="324.1" cy="490.4" r="2.15"/><circle cx="329.7" cy="494.0" r="2.15"/><circle cx="332.9" cy="496.0" r="2.15"/><circle cx="340.4" cy="494.0" r="2.15"/><circle cx="318.0" cy="496.0" r="2.15"/><circle cx="313.6" cy="498.0" r="2.15"/><circle cx="320.8" cy="500.0" r="2.15"/><circle cx="318.0" cy="502.0" r="2.15"/><circle cx="341.7" cy="500.0" r="2.15"/><circle cx="344.5" cy="500.0" r="2.15"/><circle cx="350.1" cy="496.0" r="2.15"/><circle cx="353.4" cy="497.6" r="2.15"/><circle cx="356.6" cy="496.0" r="2.15"/><circle cx="358.6" cy="494.0" r="2.15"/><circle cx="359.0" cy="498.0" r="2.15"/><circle cx="363.8" cy="490.8" r="2.15"/><circle cx="364.6" cy="496.0" r="2.15"/><circle cx="353.4" cy="503.6" r="2.15"/><circle cx="362.6" cy="503.6" r="2.15"/><circle cx="326.9" cy="505.7" r="2.15"/><circle cx="322.0" cy="507.7" r="2.15"/><circle cx="342.9" cy="507.7" r="2.15"/><circle cx="345.3" cy="505.7" r="2.15"/><circle cx="349.3" cy="509.7" r="2.15"/><circle cx="352.6" cy="507.7" r="2.15"/><circle cx="335.7" cy="511.3" r="2.15"/><circle cx="340.4" cy="513.7" r="2.15"/><circle cx="324.9" cy="513.7" r="2.15"/><circle cx="332.5" cy="515.3" r="2.15"/><circle cx="328.5" cy="517.3" r="2.15"/><circle cx="337.3" cy="519.3" r="2.15"/><circle cx="333.7" cy="521.3" r="2.15"/><circle cx="329.7" cy="522.9" r="2.15"/><circle cx="343.7" cy="519.3" r="2.15"/><circle cx="345.3" cy="517.3" r="2.15"/><circle cx="356.6" cy="515.3" r="2.15"/><circle cx="359.0" cy="516.9" r="2.15"/><circle cx="352.6" cy="520.9" r="2.15"/><circle cx="354.6" cy="519.3" r="2.15"/><circle cx="357.0" cy="523.3" r="2.15"/><circle cx="359.4" cy="521.3" r="2.15"/><circle cx="363.8" cy="513.7" r="2.15"/><circle cx="310.8" cy="517.3" r="2.15"/><circle cx="310.8" cy="525.3" r="2.15"/><circle cx="335.5" cy="527.1" r="2.15"/><circle cx="346.0" cy="527.1" r="2.15"/><circle cx="357.4" cy="527.1" r="2.15"/><circle cx="327.3" cy="528.9" r="2.15"/><circle cx="327.3" cy="530.9" r="2.15"/><circle cx="323.2" cy="532.9" r="2.15"/><circle cx="360.2" cy="532.5" r="2.15"/><circle cx="364.6" cy="528.9" r="2.15"/><circle cx="311.2" cy="536.5" r="2.15"/><circle cx="313.6" cy="536.5" r="2.15"/><circle cx="318.4" cy="536.5" r="2.15"/><circle cx="323.6" cy="536.5" r="2.15"/><circle cx="328.5" cy="534.9" r="2.15"/><circle cx="329.3" cy="536.5" r="2.15"/><circle cx="335.7" cy="536.5" r="2.15"/><circle cx="338.1" cy="536.5" r="2.15"/><circle cx="339.7" cy="536.5" r="2.15"/><circle cx="344.5" cy="536.5" r="2.15"/><circle cx="354.2" cy="536.5" r="2.15"/><circle cx="356.6" cy="536.5" r="2.15"/><circle cx="359.0" cy="536.5" r="2.15"/><circle cx="361.4" cy="535.7" r="2.15"/><circle cx="364.6" cy="536.5" r="2.15"/><circle cx="366.2" cy="492.0" r="2.15"/><circle cx="393.1" cy="492.0" r="2.15"/><circle cx="397.1" cy="490.8" r="2.15"/><circle cx="385.5" cy="494.0" r="2.15"/><circle cx="403.1" cy="493.2" r="2.15"/><circle cx="412.4" cy="493.6" r="2.15"/><circle cx="413.2" cy="494.4" r="2.15"/><circle cx="418.0" cy="495.6" r="2.15"/><circle cx="418.4" cy="499.6" r="2.15"/><circle cx="414.8" cy="499.6" r="2.15"/><circle cx="368.6" cy="498.0" r="2.15"/><circle cx="395.1" cy="498.0" r="2.15"/><circle cx="400.3" cy="498.0" r="2.15"/><circle cx="402.3" cy="497.6" r="2.15"/><circle cx="373.0" cy="502.0" r="2.15"/><circle cx="385.1" cy="502.0" r="2.15"/><circle cx="385.1" cy="504.0" r="2.15"/><circle cx="393.1" cy="502.0" r="2.15"/><circle cx="395.5" cy="500.4" r="2.15"/><circle cx="397.9" cy="502.4" r="2.15"/><circle cx="399.1" cy="504.4" r="2.15"/><circle cx="368.2" cy="505.7" r="2.15"/><circle cx="390.7" cy="505.7" r="2.15"/><circle cx="393.1" cy="507.3" r="2.15"/><circle cx="404.3" cy="505.7" r="2.15"/><circle cx="409.2" cy="507.3" r="2.15"/><circle cx="410.4" cy="508.5" r="2.15"/><circle cx="414.8" cy="505.7" r="2.15"/><circle cx="374.6" cy="507.7" r="2.15"/><circle cx="378.2" cy="509.7" r="2.15"/><circle cx="365.8" cy="513.7" r="2.15"/><circle cx="370.6" cy="513.7" r="2.15"/><circle cx="388.3" cy="513.7" r="2.15"/><circle cx="391.1" cy="511.3" r="2.15"/><circle cx="393.9" cy="514.9" r="2.15"/><circle cx="395.5" cy="513.3" r="2.15"/><circle cx="399.5" cy="513.3" r="2.15"/><circle cx="402.7" cy="514.9" r="2.15"/><circle cx="408.0" cy="513.3" r="2.15"/><circle cx="409.6" cy="514.9" r="2.15"/><circle cx="397.1" cy="517.7" r="2.15"/><circle cx="394.7" cy="519.7" r="2.15"/><circle cx="401.9" cy="517.7" r="2.15"/><circle cx="404.3" cy="519.7" r="2.15"/><circle cx="407.2" cy="520.9" r="2.15"/><circle cx="410.8" cy="521.3" r="2.15"/><circle cx="417.2" cy="521.3" r="2.15"/><circle cx="373.8" cy="521.3" r="2.15"/><circle cx="377.4" cy="521.3" r="2.15"/><circle cx="375.4" cy="523.7" r="2.15"/><circle cx="379.5" cy="524.5" r="2.15"/><circle cx="381.9" cy="525.3" r="2.15"/><circle cx="383.5" cy="526.9" r="2.15"/><circle cx="369.0" cy="524.9" r="2.15"/><circle cx="393.1" cy="524.9" r="2.15"/><circle cx="397.9" cy="522.9" r="2.15"/><circle cx="399.5" cy="523.7" r="2.15"/><circle cx="387.9" cy="526.9" r="2.15"/><circle cx="402.7" cy="526.9" r="2.15"/><circle cx="395.5" cy="528.9" r="2.15"/><circle cx="366.6" cy="528.9" r="2.15"/><circle cx="384.3" cy="529.3" r="2.15"/><circle cx="410.8" cy="529.3" r="2.15"/><circle cx="408.4" cy="530.9" r="2.15"/><circle cx="374.6" cy="532.5" r="2.15"/><circle cx="389.5" cy="532.5" r="2.15"/><circle cx="400.3" cy="532.5" r="2.15"/><circle cx="406.8" cy="532.5" r="2.15"/><circle cx="410.8" cy="532.1" r="2.15"/><circle cx="417.2" cy="532.5" r="2.15"/><circle cx="365.8" cy="536.5" r="2.15"/><circle cx="368.2" cy="536.5" r="2.15"/><circle cx="371.4" cy="534.9" r="2.15"/><circle cx="373.8" cy="536.5" r="2.15"/><circle cx="377.0" cy="536.5" r="2.15"/><circle cx="381.9" cy="536.5" r="2.15"/><circle cx="385.1" cy="534.9" r="2.15"/><circle cx="387.5" cy="536.5" r="2.15"/><circle cx="390.7" cy="536.5" r="2.15"/><circle cx="393.9" cy="534.9" r="2.15"/><circle cx="397.1" cy="536.5" r="2.15"/><circle cx="401.1" cy="534.9" r="2.15"/><circle cx="404.3" cy="536.5" r="2.15"/><circle cx="407.6" cy="534.9" r="2.15"/><circle cx="411.2" cy="536.5" r="2.15"/><circle cx="414.8" cy="536.5" r="2.15"/><circle cx="418.4" cy="536.1" r="2.15"/><circle cx="434.1" cy="440.4" r="2.15"/><circle cx="457.7" cy="440.4" r="2.15"/><circle cx="465.0" cy="440.4" r="2.15"/><circle cx="468.2" cy="441.2" r="2.15"/><circle cx="423.2" cy="443.2" r="2.15"/><circle cx="441.5" cy="443.6" r="2.15"/><circle cx="466.6" cy="445.6" r="2.15"/><circle cx="471.0" cy="445.6" r="2.15"/><circle cx="424.8" cy="447.2" r="2.15"/><circle cx="427.6" cy="447.6" r="2.15"/><circle cx="430.4" cy="447.6" r="2.15"/><circle cx="421.2" cy="449.5" r="2.15"/><circle cx="439.3" cy="449.5" r="2.15"/><circle cx="438.1" cy="453.2" r="2.15"/><circle cx="426.4" cy="454.8" r="2.15"/><circle cx="429.2" cy="453.2" r="2.15"/><circle cx="466.2" cy="453.2" r="2.15"/><circle cx="472.6" cy="451.2" r="2.15"/><circle cx="468.2" cy="453.2" r="2.15"/><circle cx="459.3" cy="457.1" r="2.15"/><circle cx="423.6" cy="459.3" r="2.15"/><circle cx="429.6" cy="461.0" r="2.15"/><circle cx="432.8" cy="462.9" r="2.15"/><circle cx="436.5" cy="461.0" r="2.15"/><circle cx="465.0" cy="461.0" r="2.15"/><circle cx="470.6" cy="459.0" r="2.15"/><circle cx="474.6" cy="461.0" r="2.15"/><circle cx="458.9" cy="463.1" r="2.15"/><circle cx="442.5" cy="464.9" r="2.15"/><circle cx="448.1" cy="464.9" r="2.15"/><circle cx="427.2" cy="466.5" r="2.15"/><circle cx="422.4" cy="468.9" r="2.15"/><circle cx="427.2" cy="470.9" r="2.15"/><circle cx="443.7" cy="468.9" r="2.15"/><circle cx="453.3" cy="468.9" r="2.15"/><circle cx="435.3" cy="476.5" r="2.15"/><circle cx="440.5" cy="478.5" r="2.15"/><circle cx="448.1" cy="478.5" r="2.15"/><circle cx="445.7" cy="480.9" r="2.15"/><circle cx="444.1" cy="482.5" r="2.15"/><circle cx="436.1" cy="480.9" r="2.15"/><circle cx="434.5" cy="483.3" r="2.15"/><circle cx="438.5" cy="483.3" r="2.15"/><circle cx="461.4" cy="482.5" r="2.15"/><circle cx="466.6" cy="482.5" r="2.15"/><circle cx="426.4" cy="484.1" r="2.15"/><circle cx="434.1" cy="486.5" r="2.15"/><circle cx="437.7" cy="486.5" r="2.15"/><circle cx="452.9" cy="484.1" r="2.15"/><circle cx="452.9" cy="486.5" r="2.15"/><circle cx="450.5" cy="488.2" r="2.15"/><circle cx="446.5" cy="489.0" r="2.15"/><circle cx="423.2" cy="489.0" r="2.15"/><circle cx="427.2" cy="488.2" r="2.15"/><circle cx="494.5" cy="443.6" r="2.15"/><circle cx="476.6" cy="447.6" r="2.15"/><circle cx="479.0" cy="447.6" r="2.15"/><circle cx="522.0" cy="447.6" r="2.15"/><circle cx="477.4" cy="453.2" r="2.15"/><circle cx="505.5" cy="455.2" r="2.15"/><circle cx="501.9" cy="459.3" r="2.15"/><circle cx="475.8" cy="461.3" r="2.15"/><circle cx="477.8" cy="461.3" r="2.15"/><circle cx="488.6" cy="463.3" r="2.15"/><circle cx="487.4" cy="465.7" r="2.15"/><circle cx="487.8" cy="467.3" r="2.15"/><circle cx="501.1" cy="466.9" r="2.15"/><circle cx="504.7" cy="464.9" r="2.15"/><circle cx="506.7" cy="464.9" r="2.15"/><circle cx="518.4" cy="464.9" r="2.15"/><circle cx="513.4" cy="468.9" r="2.15"/><circle cx="522.4" cy="470.9" r="2.15"/><circle cx="483.4" cy="474.9" r="2.15"/><circle cx="483.0" cy="476.9" r="2.15"/><circle cx="479.0" cy="480.5" r="2.15"/><circle cx="498.3" cy="482.5" r="2.15"/><circle cx="509.1" cy="486.1" r="2.15"/><circle cx="496.3" cy="488.2" r="2.15"/><circle cx="506.3" cy="489.4" r="2.15"/><circle cx="423.2" cy="490.8" r="2.15"/><circle cx="432.4" cy="492.4" r="2.15"/><circle cx="439.3" cy="492.0" r="2.15"/><circle cx="447.3" cy="490.8" r="2.15"/><circle cx="450.1" cy="494.0" r="2.15"/><circle cx="437.7" cy="496.0" r="2.15"/><circle cx="465.0" cy="492.4" r="2.15"/><circle cx="469.8" cy="492.4" r="2.15"/><circle cx="430.8" cy="497.6" r="2.15"/><circle cx="443.3" cy="498.0" r="2.15"/><circle cx="426.0" cy="502.0" r="2.15"/><circle cx="429.6" cy="502.0" r="2.15"/><circle cx="448.5" cy="502.0" r="2.15"/><circle cx="430.4" cy="506.1" r="2.15"/><circle cx="434.9" cy="507.7" r="2.15"/><circle cx="434.1" cy="509.7" r="2.15"/><circle cx="439.3" cy="508.1" r="2.15"/><circle cx="442.9" cy="505.7" r="2.15"/><circle cx="446.9" cy="509.7" r="2.15"/><circle cx="463.0" cy="503.6" r="2.15"/><circle cx="463.4" cy="507.3" r="2.15"/><circle cx="462.2" cy="511.7" r="2.15"/><circle cx="469.4" cy="500.0" r="2.15"/><circle cx="468.2" cy="502.8" r="2.15"/><circle cx="467.8" cy="506.1" r="2.15"/><circle cx="424.4" cy="515.3" r="2.15"/><circle cx="439.3" cy="517.3" r="2.15"/><circle cx="441.7" cy="519.3" r="2.15"/><circle cx="438.5" cy="520.9" r="2.15"/><circle cx="452.5" cy="517.3" r="2.15"/><circle cx="465.8" cy="517.3" r="2.15"/><circle cx="465.0" cy="521.7" r="2.15"/><circle cx="455.3" cy="522.9" r="2.15"/><circle cx="458.5" cy="522.9" r="2.15"/><circle cx="456.1" cy="525.3" r="2.15"/><circle cx="427.2" cy="524.5" r="2.15"/><circle cx="431.6" cy="525.3" r="2.15"/><circle cx="436.9" cy="525.3" r="2.15"/><circle cx="440.1" cy="526.9" r="2.15"/><circle cx="443.3" cy="528.5" r="2.15"/><circle cx="432.4" cy="529.3" r="2.15"/><circle cx="437.3" cy="529.3" r="2.15"/><circle cx="445.7" cy="530.9" r="2.15"/><circle cx="448.1" cy="529.3" r="2.15"/><circle cx="455.7" cy="530.9" r="2.15"/><circle cx="462.2" cy="526.1" r="2.15"/><circle cx="464.2" cy="528.5" r="2.15"/><circle cx="465.0" cy="531.7" r="2.15"/><circle cx="468.2" cy="532.5" r="2.15"/><circle cx="474.6" cy="529.3" r="2.15"/><circle cx="421.6" cy="533.3" r="2.15"/><circle cx="420.8" cy="536.5" r="2.15"/><circle cx="424.0" cy="536.5" r="2.15"/><circle cx="432.0" cy="536.5" r="2.15"/><circle cx="436.1" cy="536.5" r="2.15"/><circle cx="439.7" cy="534.5" r="2.15"/><circle cx="440.1" cy="536.5" r="2.15"/><circle cx="444.1" cy="536.5" r="2.15"/><circle cx="447.3" cy="536.5" r="2.15"/><circle cx="451.3" cy="536.5" r="2.15"/><circle cx="455.3" cy="536.5" r="2.15"/><circle cx="459.3" cy="536.5" r="2.15"/><circle cx="462.6" cy="536.1" r="2.15"/><circle cx="465.8" cy="536.1" r="2.15"/><circle cx="469.8" cy="536.5" r="2.15"/><circle cx="473.4" cy="536.5" r="2.15"/><circle cx="506.3" cy="490.8" r="2.15"/><circle cx="491.1" cy="498.0" r="2.15"/><circle cx="493.9" cy="498.0" r="2.15"/><circle cx="497.9" cy="500.0" r="2.15"/><circle cx="510.7" cy="496.0" r="2.15"/><circle cx="519.2" cy="494.4" r="2.15"/><circle cx="520.4" cy="496.0" r="2.15"/><circle cx="517.2" cy="500.0" r="2.15"/><circle cx="520.8" cy="509.7" r="2.15"/><circle cx="481.4" cy="515.7" r="2.15"/><circle cx="477.8" cy="519.3" r="2.15"/><circle cx="502.7" cy="517.3" r="2.15"/><circle cx="512.3" cy="517.3" r="2.15"/><circle cx="504.3" cy="522.9" r="2.15"/><circle cx="509.5" cy="522.9" r="2.15"/><circle cx="475.8" cy="528.9" r="2.15"/><circle cx="481.8" cy="530.9" r="2.15"/><circle cx="476.2" cy="536.5" r="2.15"/><circle cx="479.0" cy="536.5" r="2.15"/><circle cx="481.4" cy="536.5" r="2.15"/><circle cx="485.4" cy="536.5" r="2.15"/><circle cx="488.6" cy="536.5" r="2.15"/><circle cx="491.9" cy="536.5" r="2.15"/><circle cx="495.1" cy="536.1" r="2.15"/><circle cx="497.1" cy="536.5" r="2.15"/><circle cx="502.3" cy="536.5" r="2.15"/><circle cx="505.5" cy="536.5" r="2.15"/><circle cx="507.9" cy="536.5" r="2.15"/><circle cx="510.3" cy="536.1" r="2.15"/><circle cx="513.9" cy="534.5" r="2.15"/><circle cx="517.6" cy="536.5" r="2.15"/><circle cx="521.2" cy="536.5" r="2.15"/></g><clipPath id="ca"><rect x="90.9" y="39.8" width="433.1" height="497.3"/></clipPath><line x1="168.9" y1="39.8" x2="429.4" y2="537.1" stroke="#ff0000" stroke-width="4.4" clip-path="url(#ca)"/><g stroke="#262626" stroke-width="1.6" fill="none"><rect x="90.9" y="39.8" width="433.1" height="497.3"/><rect x="524.0" y="39.8" width="706.4000000000001" height="497.3"/><path d="M150.95 537.1v-3.3M150.95 39.8v3.3"/><path d="M200.01 537.1v-3.3M200.01 39.8v3.3"/><path d="M241.49 537.1v-3.3M241.49 39.8v3.3"/><path d="M277.43 537.1v-5.7M277.43 39.8v5.7"/><path d="M309.12 537.1v-3.3M309.12 39.8v3.3"/><path d="M337.47 537.1v-3.3M337.47 39.8v3.3"/><path d="M363.12 537.1v-3.3M363.12 39.8v3.3"/><path d="M386.54 537.1v-5.7M386.54 39.8v5.7"/><path d="M408.08 537.1v-3.3M408.08 39.8v3.3"/><path d="M428.02 537.1v-3.3M428.02 39.8v3.3"/><path d="M446.58 537.1v-3.3M446.58 39.8v3.3"/><path d="M463.95 537.1v-5.7M463.95 39.8v5.7"/><path d="M480.27 537.1v-3.3M480.27 39.8v3.3"/><path d="M495.65 537.1v-3.3M495.65 39.8v3.3"/><path d="M510.20 537.1v-3.3M510.20 39.8v3.3"/><path d="M90.9 437.64h5.7M524.0 437.64h-5.7"/><path d="M90.9 338.18h5.7M524.0 338.18h-5.7"/><path d="M90.9 238.72h5.7M524.0 238.72h-5.7"/><path d="M90.9 139.26h5.7M524.0 139.26h-5.7"/><path d="M524.0 466.06h8M1230.4 466.06h-8"/><path d="M524.0 395.01h8M1230.4 395.01h-8"/><path d="M524.0 323.97h8M1230.4 323.97h-8"/><path d="M524.0 252.93h8M1230.4 252.93h-8"/><path d="M524.0 181.89h8M1230.4 181.89h-8"/><path d="M524.0 110.84h8M1230.4 110.84h-8"/><path d="M700.60 537.1v-8M700.60 39.8v8"/><path d="M1053.80 537.1v-8M1053.80 39.8v8"/></g><g fill="#262626" style="font-family:'Liberation Sans',sans-serif;font-size:29px"><text x="80.6" y="547.2" text-anchor="end">0</text><text x="80.6" y="447.7" text-anchor="end">2</text><text x="80.6" y="348.3" text-anchor="end">4</text><text x="80.6" y="248.8" text-anchor="end">6</text><text x="80.6" y="149.4" text-anchor="end">8</text><text x="80.6" y="49.9" text-anchor="end">10</text><text x="91.9" y="576.4" text-anchor="middle">0.2</text><text x="278.4" y="576.4" text-anchor="middle">0.4</text><text x="387.5" y="576.4" text-anchor="middle">0.6</text><text x="465.0" y="576.4" text-anchor="middle">0.8</text><text x="525.0" y="576.4" text-anchor="middle">1</text><text x="698.8" y="576.6" text-anchor="middle">Linear</text><text x="1053.8" y="576.6" text-anchor="middle">Log</text><text x="1242.4" y="547.1">0</text><text x="1242.4" y="476.1">0.05</text><text x="1242.4" y="405.0">0.1</text><text x="1242.4" y="334.0">0.15</text><text x="1242.4" y="262.9">0.2</text><text x="1242.4" y="191.9">0.25</text><text x="1242.4" y="120.8">0.3</text><text x="1242.4" y="49.8">0.35</text></g><text x="310.6" y="616.9" text-anchor="middle" fill="#262626" style="font-family:'Liberation Sans',sans-serif;font-size:27.3px">TCI Thickness (m)</text><text transform="translate(29.7 353.9) rotate(-90)" fill="#262626" style="font-family:'Liberation Sans',sans-serif;font-size:27px">Area (<tspan dx="1.5">×</tspan><tspan dx="-1.5">10</tspan><tspan dy="-14" style="font-size:20.5px">3</tspan><tspan dy="14" dx="3.5">km</tspan><tspan dy="-14" dx="-1" style="font-size:20.5px">2</tspan><tspan dy="14" dx="1">)</tspan></text><text transform="translate(1341 303.6) rotate(-90)" fill="#262626" style="font-family:'Liberation Sans',sans-serif;font-size:27px">R<tspan dy="-15" style="font-size:20.5px">2</tspan></text><text x="90.3" y="25.3" style="font-family:'Liberation Sans',sans-serif;font-size:35px;font-weight:bold" fill="#000">a.</text><text x="524.2" y="25.3" style="font-family:'Liberation Sans',sans-serif;font-size:35px;font-weight:bold" fill="#000">b.</text><rect x="819.6" y="72.2" width="272.4" height="136.8" fill="#fff" stroke="#000" stroke-width="1.6"/><rect x="830.2" y="124.7" width="44.3" height="16" fill="#35a0d3"/><rect x="889" y="124.7" width="44.1" height="16" fill="#5ef0dc"/><text x="940.4" y="139.9" style="font-family:'Liberation Sans',sans-serif;font-size:20.5px;letter-spacing:0.1px" fill="#000">Offshore Winds</text><rect x="830.2" y="153.4" width="44.3" height="16" fill="#e46c6c"/><rect x="889" y="153.4" width="44.1" height="16" fill="#ff9292"/><text x="940.4" y="168.6" style="font-family:'Liberation Sans',sans-serif;font-size:20.5px;letter-spacing:0.1px" fill="#000">Air Temperature</text><rect x="830.2" y="182.1" width="44.3" height="16" fill="#e3c33c"/><rect x="889" y="182.1" width="44.1" height="16" fill="#fffd62"/><text x="940.4" y="197.3" style="font-family:'Liberation Sans',sans-serif;font-size:20.5px;letter-spacing:0.1px" fill="#000">TCI</text><text x="830.6" y="106.8" style="font-family:'Liberation Sans',sans-serif;font-size:20.5px;letter-spacing:0.45px" fill="#000">Corr.</text><text x="884.3" y="94.2" style="font-family:'Liberation Sans',sans-serif;font-size:20.5px;letter-spacing:-0.35px" fill="#000">Partial</text><text x="883.7" y="118" style="font-family:'Liberation Sans',sans-serif;font-size:20.5px;letter-spacing:0.45px" fill="#000">Corr.</text></svg></body></html>
